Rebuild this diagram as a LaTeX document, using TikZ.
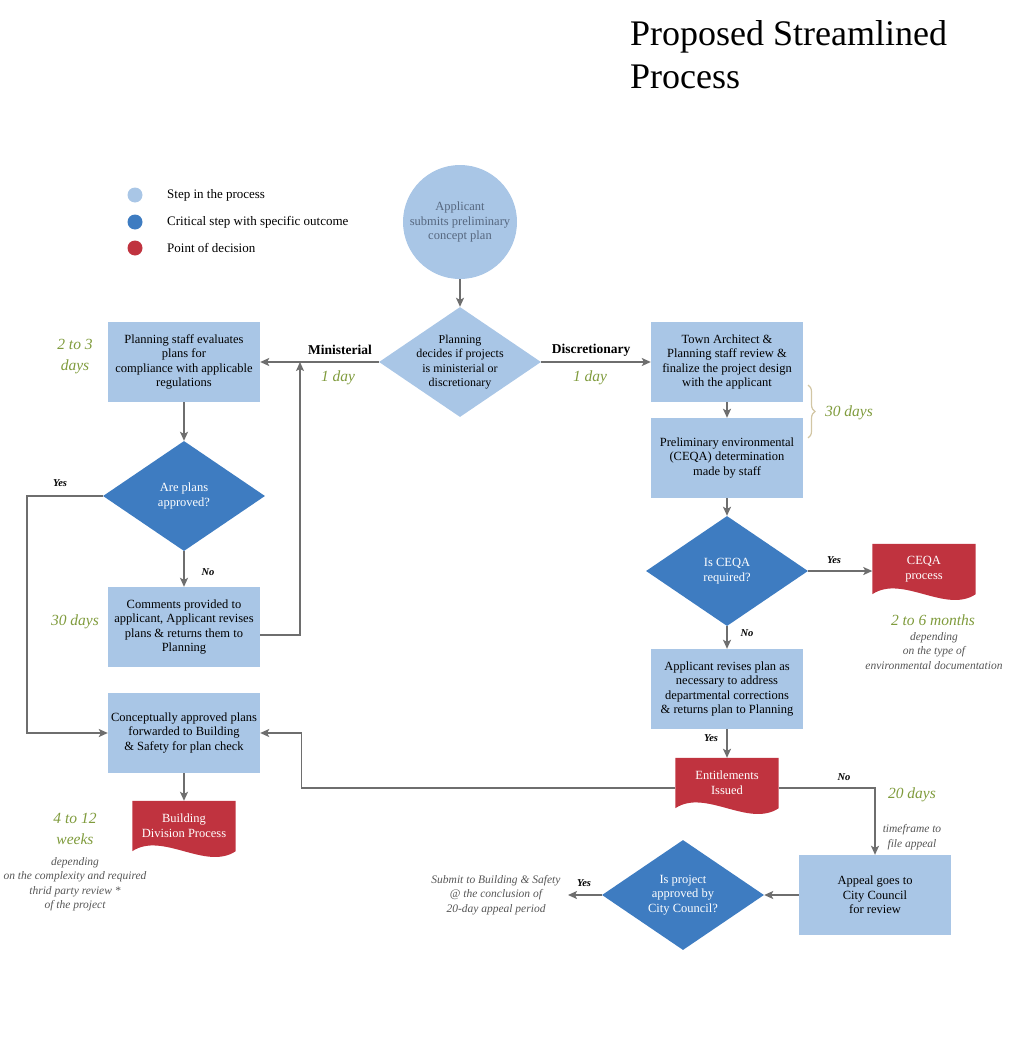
\documentclass[tikz,border=0pt]{standalone}
\usepackage{fontspec}
\setmainfont{Liberation Serif}
\usetikzlibrary{shapes.geometric,arrows.meta,decorations.pathreplacing,backgrounds}

\definecolor{stepblue}{HTML}{A9C6E6}
\definecolor{critblue}{HTML}{3E7CC1}
\definecolor{decred}{HTML}{C0333F}
\definecolor{daygreen}{HTML}{7F9B3C}
\definecolor{notegray}{HTML}{555555}
\definecolor{linegray}{HTML}{6E6E6E}
\definecolor{bracetan}{HTML}{D2C6A4}
\definecolor{circtext}{HTML}{56677F}

\tikzset{
  stepbox/.style={rectangle, fill=stepblue, minimum width=152pt, minimum height=80pt,
    align=center, inner sep=0pt, font=\fontsize{12.5}{14.5}\selectfont},
  critstep/.style={diamond, aspect=1.47, fill=critblue, text=white, minimum width=162pt,
    minimum height=110pt, inner sep=-5pt, align=center, font=\fontsize{12.5}{14.5}\selectfont},
  lightstep/.style={critstep, fill=stepblue, text=black, font=\fontsize{12}{14.5}\selectfont},
  decdoc/.style={rectangle, minimum width=103pt, minimum height=50pt, text=white,
    align=center, inner sep=0pt, font=\fontsize{12.5}{15}\selectfont},
  flow/.style={draw=linegray, line width=1.4pt, -{Stealth[length=9pt,width=8pt,inset=2pt]}},
  days/.style={text=daygreen, font=\itshape\fontsize{15.5}{21}\selectfont, align=center, inner sep=0pt},
  note/.style={text=notegray, font=\itshape\fontsize{11.5}{14.5}\selectfont, align=center, inner sep=0pt},
  yesno/.style={font=\bfseries\itshape\fontsize{10.5}{12}\selectfont, inner sep=0pt},
  route/.style={font=\bfseries\fontsize{13.5}{15}\selectfont, inner sep=0pt},
  legdot/.style={circle, minimum size=15pt, inner sep=0pt},
  legtext/.style={anchor=west, inner sep=0pt, font=\fontsize{13}{15}\selectfont},
}

% wavy bottom for the red decision shapes
\newcommand\wavefill[1]{%
  \fill[decred] (#1.north west) -- (#1.north east) -- (#1.south east)
    .. controls ([xshift=-30pt,yshift=-20pt]#1.south east) and ([xshift=30pt,yshift=20pt]#1.south west) .. (#1.south west) -- cycle;}

\begin{document}
\begin{tikzpicture}[x=1pt,y=-1pt]
\useasboundingbox (0,0) rectangle (1024,1057);

\node[anchor=north west, align=left, inner sep=0pt, font=\fontsize{36}{43}\selectfont] (title) at (630,20) {Proposed Streamlined\\Process};

% legend
\node[legdot, fill=stepblue] (lgstep) at (135,195) {};
\node[legdot, fill=critblue] (lgcrit) at (135,222) {};
\node[legdot, fill=decred] (lgdec) at (135,248) {};
\node[legtext] (lgsteptxt) at (167,195) {Step in the process};
\node[legtext] (lgcrittxt) at (167,222) {Critical step with specific outcome};
\node[legtext] (lgdectxt) at (167,248) {Point of decision};

% steps
\node[circle, fill=stepblue, minimum size=114pt, inner sep=0pt, align=center, text=circtext,
  font=\fontsize{12.5}{14.5}\selectfont] (app) at (460,222) {Applicant\\submits preliminary\\concept plan};
\node[lightstep] (plan) at (460,362) {Planning\\decides if projects\\is ministerial or\\discretionary};
\node[stepbox] (pse) at (184,362) {Planning staff evaluates\\plans for\\compliance with applicable\\regulations};
\node[critstep] (apq) at (184,496) {Are plans\\approved?};
\node[stepbox] (cmt) at (184,627) {Comments provided to\\applicant, Applicant revises\\plans \& returns them to\\Planning};
\node[stepbox] (cpt) at (184,733) {Conceptually approved plans\\forwarded to Building\\\& Safety for plan check};
\node[decdoc] (bdp) at (184,826) {Building\\Division Process};
\node[stepbox] (tarch) at (727,362) {Town Architect \&\\Planning staff review \&\\finalize the project design\\with the applicant};
\node[stepbox] (prelim) at (727,458) {Preliminary environmental\\(CEQA) determination\\made by staff};
\node[critstep] (ceqa) at (727,571) {Is CEQA\\required?};
\node[decdoc] (ceqadoc) at (924,569) {CEQA\\process};
\node[stepbox] (arev) at (727,689) {Applicant revises plan as\\necessary to address\\departmental corrections\\\& returns plan to Planning};
\node[decdoc] (ent) at (727,783) {Entitlements\\Issued};
\node[stepbox] (appeal) at (875,895) {Appeal goes to\\City Council\\for review};
\node[critstep] (council) at (683,895) {Is project\\approved by\\City Council?};
\coordinate (subm) at (568,895);
\coordinate (mj) at (300,362);

\begin{scope}[on background layer]
\wavefill{bdp}
\wavefill{ceqadoc}
\wavefill{ent}
\end{scope}

% connectors
\draw[flow] (app.south) -- (plan.north);
\draw[flow] (plan.west) -- (pse.east);
\draw[flow] (plan.east) -- (tarch.west);
\draw[flow] (pse.south) -- (apq.north);
\draw[flow] (apq.south) -- (cmt.north);
\draw[flow] ([yshift=-8pt]cmt.east) -| (mj);
\draw[flow] (apq.west) -- ++(-76,0) |- (cpt.west);
\draw[flow] (cpt.south) -- (bdp.north);
\draw[flow] (tarch.south) -- (prelim.north);
\draw[flow] (prelim.south) -- (ceqa.north);
\draw[flow] (ceqa.east) -- (ceqa.east -| ceqadoc.west);
\draw[flow] (ceqa.south) -- (arev.north);
\draw[flow] (arev.south) -- (ent.north);
\draw[flow] ([yshift=-5pt]ent.west) -| ([xshift=41pt]cpt.east) -- (cpt.east);
\draw[flow] ([yshift=-5pt]ent.east) -| (appeal.north);
\draw[flow] (appeal.west) -- (council.east);
\draw[flow] (council.west) -- (subm);

\draw[bracetan, line width=1.2pt, decorate, decoration={brace, amplitude=7pt}] (808,385) -- (808,438);

% labels
\node[route] (minlab) at (340,350) {Ministerial};
\node[route] (dislab) at (591,350) {Discretionary};
\node[days] (minday) at (338,378) {1 day};
\node[days] (disday) at (590,378) {1 day};
\node[days] (psedays) at (75,357) {2 to 3\\days};
\node[days] (cmtdays) at (75,622) {30 days};
\node[days] (bdpwks) at (75,829) {4 to 12\\weeks};
\node[note] (bdpnote) at (75,884) {depending\\on the complexity and required\\thrid party review *\\of the project};
\node[days] (revdays) at (849,413) {30 days};
\node[days] (ceqamon) at (933,620) {2 to 6 months};
\node[note] (ceqanote) at (934,651) {depending\\on the type of\\environmental documentation};
\node[days] (appdays) at (912,795) {20 days};
\node[note] (appnote) at (912,837) {timeframe to\\file appeal};
\node[note] (subnote) at (496,895) {Submit to Building \& Safety\\@ the conclusion of\\20-day appeal period};

\node[yesno] (apqyes) at (60,483) {Yes};
\node[yesno] (apqno) at (208,572) {No};
\node[yesno] (ceqayes) at (834,560) {Yes};
\node[yesno] (ceqano) at (747,633) {No};
\node[yesno] (revyes) at (711,738) {Yes};
\node[yesno] (entno) at (844,777) {No};
\node[yesno] (cncyes) at (584,883) {Yes};
\end{tikzpicture}
\end{document}
